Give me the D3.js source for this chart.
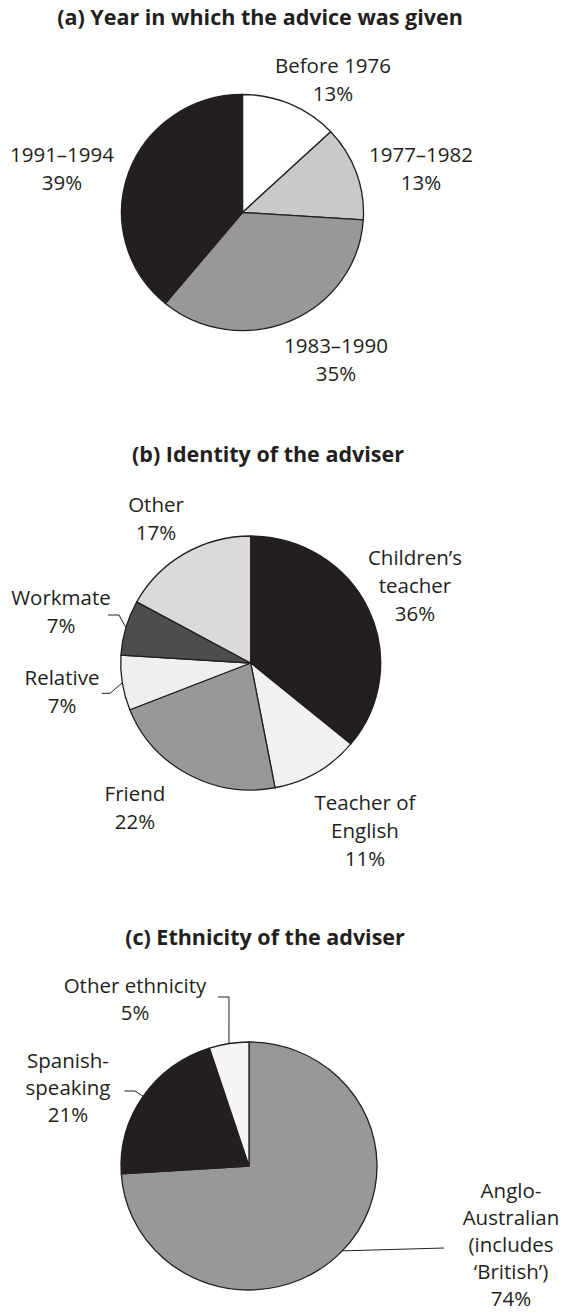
<!DOCTYPE html>
<html>
<head>
<meta charset="utf-8">
<script src="https://cdn.jsdelivr.net/npm/d3@7"></script>
<style>
  body { margin: 0; background: #fff; }
  svg text { fill: #231f20; }
  .lbl { font-family: 'Open Sans', sans-serif; font-size: 20.5px; }
  .ttl { font-family: 'Open Sans', sans-serif; font-size: 21.5px; font-weight: 700; }
</style>
</head>
<body>
<div id="chart"></div>
<script>
let width = 566,
  height = 1313

// (a) year in which the advice was given
let yearCats = ['Before 1976', '1977–1982', '1983–1990', '1991–1994']
let yearVals = [13, 13, 35, 39]

// (b) identity of the adviser
let adviserCats = ['Children’s\nteacher', 'Teacher of\nEnglish', 'Friend', 'Relative', 'Workmate', 'Other']
let adviserVals = [36, 11, 22, 7, 7, 17]

// (c) ethnicity of the adviser
let ethnicCats = ['Anglo-\nAustralian\n(includes\n‘British’)', 'Spanish-\nspeaking', 'Other ethnicity']
let ethnicVals = [74, 21, 5]

let titles = ['(a) Year in which the advice was given', '(b) Identity of the adviser', '(c) Ethnicity of the adviser']

// layout of each panel: centre, radii, where the title and labels sit
let panels = [
  {
    title: titles[0], cats: yearCats, vals: yearVals,
    fills: ['#ffffff', '#c8c9cb', '#97989a', '#231f20'],
    cx: 242.5, cy: 212.5, rx: 121, ry: 118, tx: 260, ty: 25, lh: 28,
    labels: [[333, 72.7], [421, 161.7], [336, 353], [62, 162]],
    leaders: [null, null, null, null]
  },
  {
    title: titles[1], cats: adviserCats, vals: adviserVals,
    fills: ['#231f20', '#f1f1f2', '#97989a', '#eeefef', '#4d4d4f', '#d9dadb'],
    cx: 250.7, cy: 663, rx: 130, ry: 127, tx: 268, ty: 461.7, lh: 28,
    labels: [[415, 565], [365, 810], [135, 800.7], [62, 685], [61, 605], [156, 511.7]],
    leaders: [null, null, null, [[110, 693.3], [101.7, 693.3]], [[119, 615], [108, 615]], null]
  },
  {
    title: titles[2], cats: ethnicCats, vals: ethnicVals,
    fills: ['#97989a', '#231f20', '#f5f5f5'],
    cx: 249, cy: 1166, rx: 128, ry: 124, tx: 265, ty: 945, lh: 27,
    labels: [[511, 1198], [68, 1068], [135, 993]],
    leaders: [[[444, 1248]], [[135, 1091], [124.5, 1091]], [[229, 997], [218, 997]]]
  }
]

let svg = d3.select('#chart')
  .append('svg')
  .attr('width', width)
  .attr('height', height)

let pie = d3.pie()
  .sort(null)
  .value(d => d.v)

panels.forEach(p => {
  let data = p.cats.map((c, i) => ({ name: c, v: p.vals[i], fill: p.fills[i] }))
  let arcs = pie(data)
  let k = p.ry / p.rx

  let arc = d3.arc()
    .innerRadius(0)
    .outerRadius(p.rx)

  // title
  svg.append('text')
    .attr('class', 'ttl')
    .attr('x', p.tx)
    .attr('y', p.ty)
    .attr('text-anchor', 'middle')
    .text(p.title)

  // slices (pie is slightly squashed vertically in the original)
  let g = svg.append('g')
    .attr('transform', `translate(${p.cx},${p.cy}) scale(1,${k})`)

  g.selectAll('path')
    .data(arcs)
    .enter().append('path')
    .attr('d', arc)
    .style('fill', d => d.data.fill)
    .style('stroke', '#231f20')
    .style('stroke-width', 1.3)
    .style('stroke-linejoin', 'round')
    .attr('vector-effect', 'non-scaling-stroke')

  // leader lines from the rim at the slice's mid angle
  arcs.forEach((d, i) => {
    let pts = p.leaders[i]
    if (!pts) return
    let a = (d.startAngle + d.endAngle) / 2
    let start = [p.cx + Math.sin(a) * p.rx, p.cy - Math.cos(a) * p.rx * k]
    svg.append('path')
      .attr('d', d3.line()([start].concat(pts)))
      .style('fill', 'none')
      .style('stroke', '#231f20')
      .style('stroke-width', 1)
  })

  // labels: name lines then the percentage
  arcs.forEach((d, i) => {
    let lines = d.data.name.split('\n').concat([d.data.v + '%'])
    let t = svg.append('text')
      .attr('class', 'lbl')
      .attr('text-anchor', 'middle')
    lines.forEach((s, j) => {
      t.append('tspan')
        .attr('x', p.labels[i][0])
        .attr('y', p.labels[i][1] + j * p.lh)
        .text(s)
    })
  })
})
</script>
</body>
</html>
